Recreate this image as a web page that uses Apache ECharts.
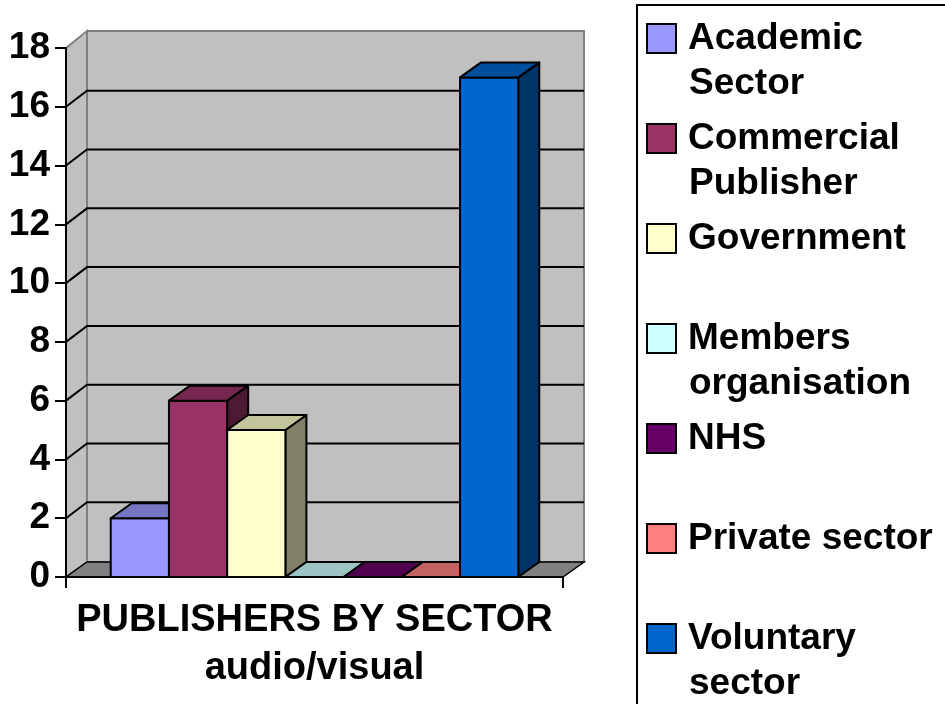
<!DOCTYPE html>
<html>
<head>
<meta charset="utf-8">
<script src="https://cdn.jsdelivr.net/npm/echarts@6/dist/echarts.min.js"></script>
<style>
html,body{margin:0;padding:0;background:#fff;}
#chart{width:945px;height:704px;}
</style>
</head>
<body>
<div id="chart"></div>
<script>
// ---- data ----
const categories = ['PUBLISHERS BY SECTOR\naudio/visual'];
const sectors = ['Academic Sector', 'Commercial Publisher', 'Government', 'Members organisation', 'NHS', 'Private sector', 'Voluntary sector'];
const legendLines = [['Academic', 'Sector'], ['Commercial', 'Publisher'], ['Government'], ['Members', 'organisation'], ['NHS'], ['Private sector'], ['Voluntary', 'sector']];
const values = [2, 6, 5, 0, 0, 0, 17];
const colors = ['#9999FF', '#993366', '#FFFFCC', '#CCFFFF', '#660066', '#FF8080', '#0066CC'];
const yMin = 0, yMax = 18, yStep = 2;

// ---- style ----
const FONT = '"Liberation Sans", Arial, sans-serif';
const DX = 21, DY = -15;
const GROUP_RATIO = 0.82;

function shade(hex, f) {
  const n = parseInt(hex.slice(1), 16);
  const r = Math.round(((n >> 16) & 255) * f), g = Math.round(((n >> 8) & 255) * f), b = Math.round((n & 255) * f);
  return 'rgb(' + r + ',' + g + ',' + b + ')';
}

function wallRender(params, api) {
  const cs = params.coordSys;
  const L = cs.x, R = cs.x + cs.width, T = cs.y, B = cs.y + cs.height;
  const children = [];
  children.push({ type: 'polygon', shape: { points: [[L + DX, T + DY - 2], [R + DX, T + DY - 2], [R + DX, B + DY], [L + DX, B + DY]] },
    style: { fill: '#C0C0C0', stroke: '#808080', lineWidth: 2 } });
  children.push({ type: 'polygon', shape: { points: [[L, T], [L + DX, T + DY - 2], [L + DX, B + DY], [L, B]] },
    style: { fill: '#C0C0C0', stroke: '#808080', lineWidth: 2 } });
  children.push({ type: 'polygon', shape: { points: [[L, B], [R, B], [R + DX, B + DY], [L + DX, B + DY]] },
    style: { fill: '#808080', stroke: '#000', lineWidth: 1.5 } });
  for (let v = yMin + yStep; v < yMax; v += yStep) {
    const y = api.coord([0, v])[1];
    children.push({ type: 'polyline', shape: { points: [[L, y], [L + DX, y + DY - 1], [R + DX, y + DY - 1]] },
      style: { stroke: '#000', lineWidth: 2, fill: null } });
  }
  return { type: 'group', children: children };
}

function barRender(idx) {
  return function (params, api) {
    const band = api.size([1, 0])[0];
    const base = api.coord([api.value(0), 0]);
    const top = api.coord([api.value(0), api.value(1)]);
    const groupW = band * GROUP_RATIO;
    const bw = groupW / sectors.length;
    const x0 = base[0] - groupW / 2 + idx * bw, x1 = x0 + bw;
    const y0 = base[1], y1 = top[1];
    const c = colors[idx];
    const line = { stroke: '#000', lineWidth: 2, lineJoin: 'round' };
    const children = [];
    if (y0 - y1 > 0.5) {
      children.push({ type: 'polygon', shape: { points: [[x1, y1], [x1 + DX, y1 + DY], [x1 + DX, y0 + DY], [x1, y0]] },
        style: Object.assign({ fill: shade(c, 0.5) }, line) });
      children.push({ type: 'rect', shape: { x: x0, y: y1, width: bw, height: y0 - y1 },
        style: Object.assign({ fill: c }, line) });
    }
    children.push({ type: 'polygon', shape: { points: [[x0, y1], [x1, y1], [x1 + DX, y1 + DY], [x0 + DX, y1 + DY]] },
      style: Object.assign({ fill: shade(c, 0.77) }, line) });
    return { type: 'group', children: children };
  };
}

const series = [{
  type: 'custom', name: '_walls', renderItem: wallRender, data: [[0, 0]], silent: true, z: 1
}];
sectors.forEach(function (s, i) {
  series.push({ type: 'custom', name: s, renderItem: barRender(i), data: [[0, values[i]]],
    itemStyle: { color: colors[i] }, z: 2 });
});

const rich = { gap: { width: 13, height: 27 }, ind: { width: 41 },
  t: { fontSize: 37, fontWeight: 'bold', lineHeight: 45, color: '#000', fontFamily: FONT } };
colors.forEach(function (c, i) {
  rich['b' + i] = { width: 27, height: 27, backgroundColor: c, borderColor: '#000', borderWidth: 2 };
});

const legends = sectors.map(function (s, i) {
  return {
    data: [s], left: 643, top: 20 + 100 * i, orient: 'vertical', padding: 0,
    icon: 'rect', itemWidth: 0, itemHeight: 0, selectedMode: false,
    formatter: function () {
      const ln = legendLines[i];
      let str = '{b' + i + '|}{gap|}{t|' + ln[0] + '}';
      if (ln[1]) str += '\n{ind|}{t|' + ln[1] + '}';
      return str;
    },
    textStyle: { rich: rich, fontSize: 37, fontFamily: FONT }
  };
});

const chart = echarts.init(document.getElementById('chart'), null, { renderer: 'canvas' });
chart.setOption({
  backgroundColor: '#fff',
  animation: false,
  grid: { left: 66, top: 48, width: 497, height: 529, containLabel: false },
  xAxis: {
    type: 'category', data: categories, z: 10,
    axisLine: { lineStyle: { color: '#000', width: 2 } },
    axisTick: { show: true, length: 11, lineStyle: { color: '#000', width: 2 } },
    axisLabel: { color: '#000', fontSize: 38, fontWeight: 'bold', fontFamily: FONT, lineHeight: 48, margin: 20 },
    splitLine: { show: false }
  },
  yAxis: {
    type: 'value', min: yMin, max: yMax, interval: yStep, z: 10,
    axisLine: { show: true, lineStyle: { color: '#000', width: 2 } },
    axisTick: { show: true, length: 11, lineStyle: { color: '#000', width: 2 } },
    axisLabel: { color: '#000', fontSize: 37, fontWeight: 'bold', fontFamily: FONT, margin: 16 },
    splitLine: { show: false }
  },
  legend: legends,
  graphic: [{ type: 'rect', shape: { x: 637, y: 5, width: 330, height: 720 },
    style: { fill: 'none', stroke: '#000', lineWidth: 2 }, silent: true }],
  series: series
});
</script>
</body>
</html>
